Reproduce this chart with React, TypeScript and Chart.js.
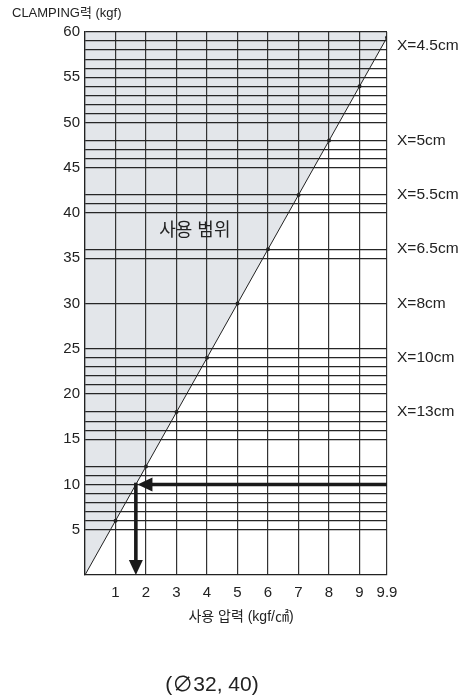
import React, { useEffect, useRef } from "react";
import { Chart, registerables } from "chart.js";

Chart.register(...registerables);

const FONT = "'Liberation Sans', 'Noto Sans CJK KR', sans-serif";

// x axis: 사용 압력 (kgf/㎠)
const pressureTicks = [0, 1, 2, 3, 4, 5, 6, 7, 8, 9, 9.9];
const pressureLabels = ["", "1", "2", "3", "4", "5", "6", "7", "8", "9", "9.9"];

// y axis: CLAMPING력 (kgf)
const forceLines = [
  5, 6, 7, 8, 9, 10, 11, 12, 15, 16, 17, 18, 20, 21, 22, 23, 24, 25, 30, 35, 36,
  40, 41, 42, 45, 46, 47, 48, 50, 51, 52, 53, 54, 55, 56, 57, 58, 59, 60,
];
const forceLabelValues = [5, 10, 15, 20, 25, 30, 35, 40, 45, 50, 55, 60];

// right side stroke labels
const strokeLabels = ["X=4.5cm", "X=5cm", "X=5.5cm", "X=6.5cm", "X=8cm", "X=10cm", "X=13cm"];
const strokeLabelValues = [58.5, 48, 42, 36, 30, 24, 18];

// clamping force line
const linePressure = [0, 1, 2, 3, 4, 5, 6, 7, 8, 9, 9.9];
const lineForce = [0, 6, 12, 18, 24, 30, 36, 42, 48, 54, 59.4];

// example reading arrows
const arrowH = [[9.9, 10], [1.72, 10]];
const arrowV = [[1.667, 10], [1.667, 0]];

const zoneLabel = "사용 범위";
const zonePos = [3.6, 38];

const titleText = "CLAMPING력 (kgf)";
const xTitleText = "사용 압력 (kgf/㎠)";
const subTitleText = "(∅32, 40)";

function drawArrow(ctx: CanvasRenderingContext2D, x1: number, y1: number, x2: number, y2: number, headLen: number, headW: number, lw: number) {
  const dx = x2 - x1;
  const dy = y2 - y1;
  const len = Math.hypot(dx, dy);
  const ux = dx / len;
  const uy = dy / len;
  const bx = x2 - ux * headLen;
  const by = y2 - uy * headLen;
  ctx.save();
  ctx.strokeStyle = "#1a1a1a";
  ctx.fillStyle = "#1a1a1a";
  ctx.lineWidth = lw;
  ctx.lineCap = "butt";
  ctx.beginPath();
  ctx.moveTo(x1, y1);
  ctx.lineTo(bx + ux * 2, by + uy * 2);
  ctx.stroke();
  ctx.beginPath();
  ctx.moveTo(x2, y2);
  ctx.lineTo(bx - uy * headW / 2, by + ux * headW / 2);
  ctx.lineTo(bx + uy * headW / 2, by - ux * headW / 2);
  ctx.closePath();
  ctx.fill();
  ctx.restore();
}

const overlayPlugin = {
  id: "overlay",
  afterDatasetsDraw(chart: any) {
    const { ctx, scales } = chart;
    const xs = scales.x;
    const ys = scales.y;
    const lw = 3.6;
    drawArrow(
      ctx,
      xs.getPixelForValue(arrowH[0][0]),
      ys.getPixelForValue(arrowH[0][1]),
      xs.getPixelForValue(arrowH[1][0]),
      ys.getPixelForValue(arrowH[1][1]),
      15,
      14,
      lw
    );
    drawArrow(
      ctx,
      xs.getPixelForValue(arrowV[0][0]),
      ys.getPixelForValue(arrowV[0][1]) - lw / 2,
      xs.getPixelForValue(arrowV[1][0]),
      ys.getPixelForValue(arrowV[1][1]),
      15,
      14,
      lw
    );
    ctx.save();
    ctx.fillStyle = "#222";
    ctx.font = `18px ${FONT}`;
    ctx.textAlign = "center";
    ctx.textBaseline = "middle";
    ctx.fillText(zoneLabel, xs.getPixelForValue(zonePos[0]), ys.getPixelForValue(zonePos[1]));
    ctx.restore();
  },
  afterDraw(chart: any) {
    const { ctx } = chart;
    ctx.save();
    ctx.fillStyle = "#222";
    ctx.textBaseline = "middle";
    ctx.font = `13px ${FONT}`;
    ctx.textAlign = "left";
    ctx.fillText(titleText, 12, 13);
    ctx.textAlign = "center";
    ctx.font = `14px ${FONT}`;
    ctx.fillText(xTitleText, 241, 617);
    ctx.font = `21px ${FONT}`;
    ctx.fillText(subTitleText, 212, 685);
    ctx.restore();
  },
};

export default function App() {
  const ref = useRef<HTMLCanvasElement | null>(null);

  useEffect(() => {
    document.body.style.margin = "0";
    const canvas = ref.current;
    if (!canvas) return;
    const chart = new Chart(canvas, {
      type: "line",
      data: {
        datasets: [
          {
            data: linePressure.map((p, i) => ({ x: p, y: lineForce[i] })),
            borderColor: "#222",
            borderWidth: 1,
            backgroundColor: "#e3e6ea",
            fill: "end",
            pointRadius: linePressure.map((p) => (p === 0 ? 0 : 2)),
            pointBackgroundColor: "#222",
            pointBorderWidth: 0,
            tension: 0,
          },
        ],
      },
      options: {
        animation: false,
        responsive: false,
        maintainAspectRatio: false,
        layout: { padding: { top: 32, left: 0, right: 0, bottom: 0 } },
        plugins: {
          legend: { display: false },
          tooltip: { enabled: false },
          filler: { drawTime: "beforeDraw" },
        } as any,
        scales: {
          x: {
            type: "linear",
            min: 0,
            max: 9.9,
            afterBuildTicks: (s: any) => {
              s.ticks = pressureTicks.map((v) => ({ value: v }));
            },
            afterFit: (s: any) => {
              s.height = 123;
            },
            ticks: {
              autoSkip: false,
              maxRotation: 0,
              padding: 9,
              color: "#222",
              font: { size: 15, family: FONT },
              callback: (_v: any, i: number) => pressureLabels[i],
            },
            grid: { color: "#333", lineWidth: 1.2, drawTicks: false },
            border: { color: "#222", width: 1.2 },
          },
          y: {
            type: "linear",
            position: "left",
            min: 0,
            max: 60,
            afterBuildTicks: (s: any) => {
              s.ticks = forceLines.map((v) => ({ value: v }));
            },
            afterFit: (s: any) => {
              s.width = 85;
            },
            ticks: {
              autoSkip: false,
              padding: 5,
              color: "#222",
              font: { size: 15, family: FONT },
              callback: (v: any) => (forceLabelValues.includes(Number(v)) ? String(v) : ""),
            },
            grid: { color: "#262626", lineWidth: 1.2, drawTicks: false },
            border: { color: "#222", width: 1.2 },
          },
          y2: {
            type: "linear",
            position: "right",
            display: true,
            min: 0,
            max: 60,
            afterBuildTicks: (s: any) => {
              s.ticks = strokeLabelValues.map((v) => ({ value: v }));
            },
            afterFit: (s: any) => {
              s.width = 84;
            },
            ticks: {
              autoSkip: false,
              padding: 10,
              color: "#222",
              font: { size: 15.5, family: FONT },
              callback: (_v: any, i: number) => strokeLabels[i],
            },
            grid: { display: false, drawTicks: false },
            border: { display: false },
          },
        },
      } as any,
      plugins: [overlayPlugin],
    });
    return () => chart.destroy();
  }, []);

  return (
    <div style={{ width: 471, height: 698 }}>
      <canvas ref={ref} width={471} height={698} style={{ display: "block" }} />
    </div>
  );
}
